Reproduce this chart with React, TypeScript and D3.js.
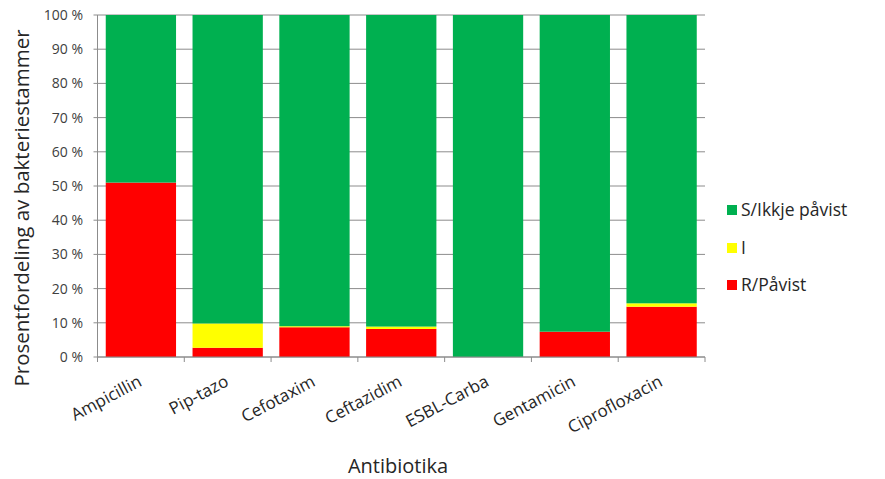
import React from "react";
import * as d3 from "d3";

const categories = ["Ampicillin", "Pip-tazo", "Cefotaxim", "Ceftazidim", "ESBL-Carba", "Gentamicin", "Ciprofloxacin"];
const rValues = [51, 2.7, 8.7, 8.2, 0, 7.4, 14.7];
const iValues = [0, 7.1, 0.3, 0.7, 0, 0, 1.0];
const sValues = categories.map((_, i) => 100 - rValues[i] - iValues[i]);
const yTicks = [0, 10, 20, 30, 40, 50, 60, 70, 80, 90, 100];
const seriesNames = ["S/Ikkje påvist", "I", "R/Påvist"];
const colors: Record<string, string> = { "S/Ikkje påvist": "#00B050", I: "#FFFF00", "R/Påvist": "#FF0000" };

const W = 885, H = 479;
const left = 97.5, right = 705, top = 15, bottom = 357;
const font = "Open Sans, Noto Sans, sans-serif";

export default function App() {
  const x = d3.scaleBand<string>().domain(categories).range([left, right]).paddingInner(0.19).paddingOuter(0.095);
  const xb = d3.scaleBand<string>().domain(categories).range([left, right]);
  const y = d3.scaleLinear().domain([0, 100]).range([bottom, top]);
  const rows = categories.map((c, i) => ({ c, R: rValues[i], I: iValues[i], S: sValues[i] }));
  const stack = d3.stack<any>().keys(["R", "I", "S"])(rows);
  const keyName: Record<string, string> = { R: "R/Påvist", I: "I", S: "S/Ikkje påvist" };
  return (
    <svg width={W} height={H} style={{ position: "absolute", left: 0, top: 0, background: "#fff" }}>
      {yTicks.map((t) => (
        <g key={t}>
          <line x1={left - 4} x2={right} y1={y(t)} y2={y(t)} stroke="#8c8c8c" strokeWidth={1} />
          <text x={83} y={y(t)} dy="0.35em" textAnchor="end" fontFamily={font} fontSize={14} fill="#404040">
            {t} %
          </text>
        </g>
      ))}
      {stack.map((s) => (
        <g key={s.key} fill={colors[keyName[s.key]]}>
          {s.map((d: any, i: number) => (
            d[1] - d[0] > 0 ? (
              <rect key={i} x={x(categories[i])} width={x.bandwidth()} y={y(d[1])} height={y(d[0]) - y(d[1])} />
            ) : null
          ))}
        </g>
      ))}
      <line x1={left} x2={left} y1={top} y2={bottom} stroke="#8c8c8c" />
      <line x1={left} x2={right} y1={bottom} y2={bottom} stroke="#8c8c8c" />
      {categories.concat(["_end"]).map((c, i) => {
        const xx = i < categories.length ? xb(c)! : right;
        return <line key={c} x1={xx} x2={xx} y1={bottom} y2={bottom + 5} stroke="#8c8c8c" />;
      })}
      {categories.map((c) => {
        const cx = xb(c)! + xb.bandwidth() / 2 + 2;
        return (
          <text key={c} transform={`translate(${cx},${385}) rotate(-28)`} textAnchor="end" fontFamily={font} fontSize={17} fill="#262626">
            {c}
          </text>
        );
      })}
      <text x={398} y={473} textAnchor="middle" fontFamily={font} fontSize={20} fill="#262626">Antibiotika</text>
      <text transform={`translate(29,208) rotate(-90)`} textAnchor="middle" fontFamily={font} fontSize={20.5} fill="#262626">
        Prosentfordeling av bakteriestammer
      </text>
      {seriesNames.map((n, i) => {
        const ly = [210, 248, 285][i];
        return (
          <g key={n}>
            <rect x={727} y={ly - 5} width={10} height={10} fill={colors[n]} />
            <text x={741} y={ly} dy="0.35em" fontFamily={font} fontSize={17.5} fill="#262626">{n}</text>
          </g>
        );
      })}
    </svg>
  );
}
